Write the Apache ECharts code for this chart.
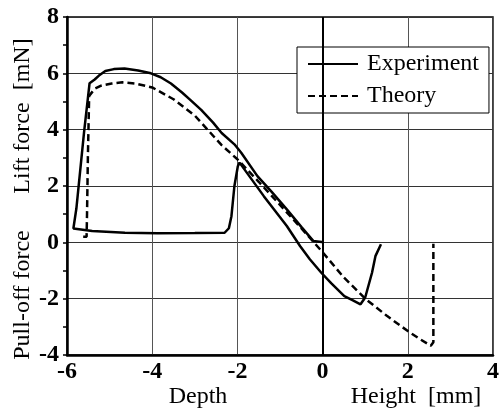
<!DOCTYPE html>
<html lang="en">
<head>
<meta charset="UTF-8" />
<title>Lift force vs depth / height</title>
<script src="https://cdn.jsdelivr.net/npm/echarts@6/dist/echarts.min.js"></script>
<style>
  html, body { margin: 0; padding: 0; background: #fff; }
  #main { width: 502px; height: 409px; }
</style>
</head>
<body>
<div id="main"></div>
<script>
// measured experiment loop (x in mm, y in mN), in drawing order
var expX = [0.03, -0.22, -0.5, -0.84, -1.2, -1.53, -1.91, -2.07, -2.37, -2.57, -2.85, -3.1, -3.3, -3.56, -3.8, -4.03, -4.33, -4.65, -4.9, -5.1, -5.25, -5.35, -5.47,
            -5.6, -5.78, -5.85, -5.41, -4.64, -3.87, -3.0, -2.3, -2.2, -2.14, -2.07, -1.99, -1.95,
            -1.38, -0.84, -0.53, -0.3, -0.03, 0.2, 0.51, 0.7, 0.89, 1.0, 1.16, 1.24, 1.37];
var expY = [0.0, 0.05, 0.55, 1.17, 1.8, 2.35, 3.18, 3.48, 3.88, 4.25, 4.7, 5.05, 5.32, 5.64, 5.86, 6.0, 6.1, 6.17, 6.15, 6.08, 5.92, 5.78, 5.65,
            3.9, 1.2, 0.49, 0.4, 0.34, 0.32, 0.33, 0.34, 0.5, 0.93, 2.0, 2.7, 2.83,
            1.64, 0.58, -0.13, -0.6, -1.08, -1.45, -1.91, -2.05, -2.2, -1.96, -1.08, -0.49, -0.07];

// theory curve
var theoX = [-5.62, -5.54, -5.53, -5.51, -5.48, -5.35, -5.2, -4.95, -4.7, -4.4, -4.0, -3.5, -3.0, -2.37, -2.0, -1.5, -1.0, -0.5,
             0, 0.5, 1.0, 1.5, 2.0, 2.3, 2.54, 2.6, 2.6];
var theoY = [0.2, 0.2, 1.0, 3.0, 5.2, 5.45, 5.56, 5.64, 5.68, 5.64, 5.5, 5.08, 4.5, 3.45, 2.95, 2.15, 1.33, 0.5,
             -0.35, -1.25, -2.0, -2.6, -3.15, -3.45, -3.67, -3.55, -0.05];

var xTicks = [-6, -4, -2, 0, 2, 4];
var yTicks = [-4, -2, 0, 2, 4, 6, 8];

function zip(xs, ys) {
  return xs.map(function (x, i) { return [x, ys[i]]; });
}

var serif = '"Liberation Serif", "Times New Roman", serif';
var chart = echarts.init(document.getElementById('main'));

chart.setOption({
  animation: false,
  grid: {
    left: 67, right: 2, top: 17, bottom: 54,
    show: true, borderColor: '#000', borderWidth: 1.5
  },
  legend: {
    orient: 'vertical',
    left: 297, top: 47,
    padding: [5, 10, 5, 10],
    itemGap: 8,
    itemWidth: 50,
    itemHeight: 14,
    backgroundColor: '#fff',
    borderColor: '#000',
    borderWidth: 1,
    borderRadius: 0,
    itemStyle: { opacity: 0 },
    textStyle: { fontFamily: serif, fontSize: 24, color: '#000', lineHeight: 24, padding: [0, 0, 0, 4] },
    data: ['Experiment', 'Theory']
  },
  xAxis: {
    type: 'value',
    min: xTicks[0], max: xTicks[xTicks.length - 1], interval: 2,
    axisLine: { show: true, onZero: false, lineStyle: { color: '#000', width: 2.5 } },
    axisTick: { show: false },
    axisLabel: { fontFamily: serif, fontSize: 24, fontWeight: 'bold', color: '#000', margin: 5 },
    splitLine: { show: true, lineStyle: { color: '#555', width: 1 } }
  },
  yAxis: {
    type: 'value',
    min: yTicks[0], max: yTicks[yTicks.length - 1], interval: 2,
    axisLine: { show: true, onZero: false, lineStyle: { color: '#000', width: 2.5 } },
    axisTick: { show: true, inside: false, length: 4, lineStyle: { color: '#000', width: 1.5 } },
    minorTick: { show: true, splitNumber: 2, length: 4, lineStyle: { color: '#000', width: 1.5 } },
    axisLabel: { fontFamily: serif, fontSize: 24, fontWeight: 'bold', color: '#000', margin: 8 },
    splitLine: { show: true, lineStyle: { color: '#333', width: 1 } }
  },
  graphic: [
    { type: 'text', x: 23, y: 116, rotation: Math.PI / 2,
      style: { text: 'Lift force  [mN]', font: '24px ' + serif, fill: '#000', align: 'center', verticalAlign: 'middle' } },
    { type: 'text', x: 23, y: 295, rotation: Math.PI / 2,
      style: { text: 'Pull-off force', font: '24px ' + serif, fill: '#000', align: 'center', verticalAlign: 'middle' } },
    { type: 'text', x: 198, y: 397,
      style: { text: 'Depth', font: '24px ' + serif, fill: '#000', align: 'center', verticalAlign: 'middle' } },
    { type: 'text', x: 416, y: 397,
      style: { text: 'Height  [mm]', font: '24px ' + serif, fill: '#000', align: 'center', verticalAlign: 'middle' } }
  ],
  series: [
    {
      name: 'Experiment',
      type: 'line',
      showSymbol: false,
      symbol: 'none',
      lineStyle: { color: '#000', width: 2.5, type: 'solid' },
      itemStyle: { color: '#000' },
      data: zip(expX, expY),
      markLine: {
        silent: true,
        symbol: 'none',
        label: { show: false },
        lineStyle: { color: '#000', width: 2, type: 'solid' },
        data: [{ xAxis: 0 }]
      },
      z: 3
    },
    {
      name: 'Theory',
      type: 'line',
      showSymbol: false,
      symbol: 'none',
      lineStyle: { color: '#000', width: 2.5, type: [7, 4] },
      itemStyle: { color: '#000' },
      data: zip(theoX, theoY),
      z: 3
    }
  ]
});
</script>
</body>
</html>
